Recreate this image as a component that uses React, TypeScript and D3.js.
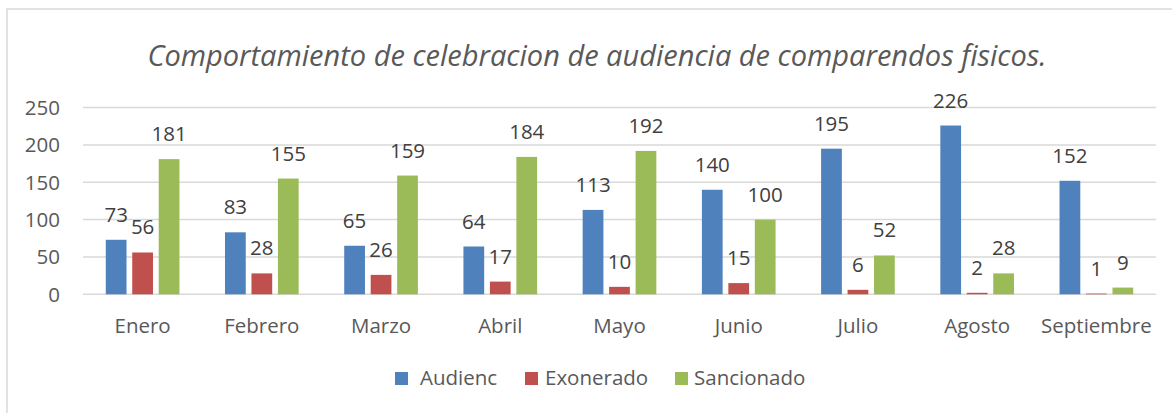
import React from "react";
import * as d3 from "d3";

const title = "Comportamiento de celebracion de audiencia de comparendos fisicos.";
const categories = ["Enero", "Febrero", "Marzo", "Abril", "Mayo", "Junio", "Julio", "Agosto", "Septiembre"];
const seriesNames = ["Audienc", "Exonerado", "Sancionado"];
const audienc = [73, 83, 65, 64, 113, 140, 195, 226, 152];
const exonerado = [56, 28, 26, 17, 10, 15, 6, 2, 1];
const sancionado = [181, 155, 159, 184, 192, 100, 52, 28, 9];
const yTicks = [0, 50, 100, 150, 200, 250];
const colors = ["#4F81BD", "#C0504D", "#9BBB59"];

const W = 1172;
const H = 413;
const FONT = "'Open Sans', 'Liberation Sans', sans-serif";

export default function App() {
  const series = [audienc, exonerado, sancionado];
  const plotLeft = 83;
  const plotRight = 1156;
  const y = d3.scaleLinear().domain([0, 250]).range([294.3, 107.6]);
  const x = d3.scaleBand().domain(categories).range([plotLeft, plotRight]).paddingInner(0).paddingOuter(0);
  const bw = x.bandwidth();
  const barW = bw * 0.174;
  const step = bw * 0.222;

  const legendItems = [
    { sq: 395, tx: 420 },
    { sq: 525, tx: 545 },
    { sq: 675, tx: 694 },
  ];

  return (
    <svg width={W} height={H} style={{ position: "absolute", left: 0, top: 0, display: "block" }}>
      <rect x={0} y={0} width={W} height={H} fill="#ffffff" />
      <rect x={7} y={9} width={W + 20} height={H + 20} fill="none" stroke="#d9d9d9" strokeWidth={1.5} />
      <text
        x={597}
        y={66}
        textAnchor="middle"
        fontFamily={FONT}
        fontStyle="italic"
        fontSize={29}
        fill="#595959"
      >
        {title}
      </text>
      {yTicks.map((t) => (
        <g key={t}>
          <line x1={plotLeft} x2={plotRight} y1={y(t)} y2={y(t)} stroke="#d9d9d9" strokeWidth={1.5} />
          <text x={60} y={y(t)} dy="0.36em" textAnchor="end" fontFamily={FONT} fontSize={20.5} fill="#595959">
            {t}
          </text>
        </g>
      ))}
      {categories.map((c, i) => {
        const cx = (x(c) as number) + bw / 2;
        return (
          <g key={c}>
            {series.map((s, k) => {
              const bx = cx + (k - 1) * step - barW / 2;
              const top = y(s[i]);
              return (
                <g key={k}>
                  <rect x={bx} y={top} width={barW} height={y(0) - top} fill={colors[k]} />
                  <text
                    x={bx + barW / 2}
                    y={top - 18}
                    textAnchor="middle"
                    fontFamily={FONT}
                    fontSize={20.5}
                    fill="#404040"
                  >
                    {s[i]}
                  </text>
                </g>
              );
            })}
            <text x={cx} y={333} textAnchor="middle" fontFamily={FONT} fontSize={20.5} fill="#595959">
              {c}
            </text>
          </g>
        );
      })}
      {seriesNames.map((n, k) => (
        <g key={n}>
          <rect x={legendItems[k].sq} y={372} width={13} height={13} fill={colors[k]} />
          <text x={legendItems[k].tx} y={385} fontFamily={FONT} fontSize={20.5} fill="#595959">
            {n}
          </text>
        </g>
      ))}
    </svg>
  );
}
